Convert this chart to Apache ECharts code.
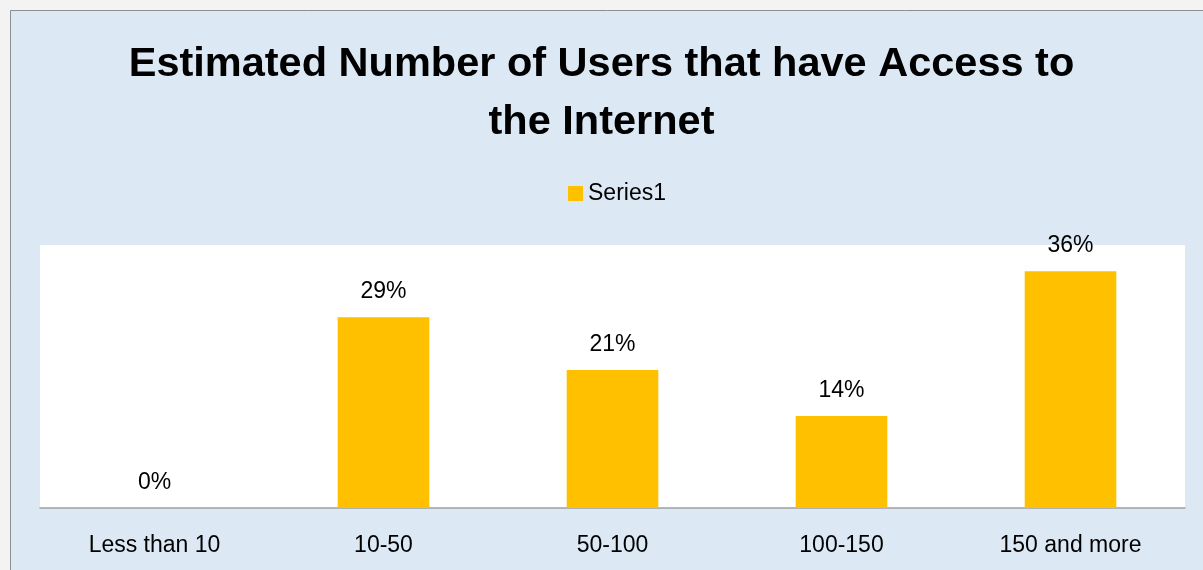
<!DOCTYPE html>
<html>
<head>
<meta charset="utf-8">
<script src="https://cdn.jsdelivr.net/npm/echarts@6/dist/echarts.min.js"></script>
<style>
  html, body { margin: 0; padding: 0; background: #f3f3f3; }
  #chart { width: 1203px; height: 570px; }
</style>
</head>
<body>
<div id="chart"></div>
<script>
// Number of users per group and the share of respondents with internet access
const categories = ['Less than 10', '10-50', '50-100', '100-150', '150 and more'];
const series1 = [0, 29, 21, 14, 36];
const seriesName = 'Series1';
const titleText = 'Estimated Number of Users that have Access to\nthe Internet';

const FONT = '"Liberation Sans", Arial, sans-serif';

const chart = echarts.init(document.getElementById('chart'), null, { renderer: 'canvas' });
chart.setOption({
  backgroundColor: '#f3f3f3',
  animation: false,
  textStyle: { fontFamily: FONT },
  graphic: [{
    type: 'rect',
    z: -10,
    silent: true,
    shape: { x: 10.5, y: 10.5, width: 1300, height: 700 },
    style: { fill: '#dce9f5', stroke: '#8e8e8e', lineWidth: 1 }
  }],
  title: {
    text: titleText,
    left: 'center',
    top: 36,
    padding: 0,
    textStyle: { fontFamily: FONT, fontSize: 41.5, fontWeight: 'bold', color: '#000', lineHeight: 58 }
  },
  legend: {
    data: [seriesName],
    left: 568,
    top: 182,
    padding: 0,
    itemWidth: 15,
    itemHeight: 15,
    itemGap: 5,
    icon: 'rect',
    textStyle: { fontFamily: FONT, fontSize: 23, color: '#000', padding: [0, 0, 0, 0] }
  },
  grid: {
    left: 40, right: 18, top: 245, bottom: 62,
    show: true, backgroundColor: '#ffffff', borderWidth: 0
  },
  xAxis: {
    type: 'category',
    data: categories,
    axisLine: { lineStyle: { color: '#a0a0a0', width: 1.5 } },
    axisTick: { show: false },
    axisLabel: { fontFamily: FONT, fontSize: 23, color: '#000', margin: 26 }
  },
  yAxis: {
    type: 'value',
    min: 0, max: 40,
    show: false,
    splitLine: { show: false }
  },
  series: [{
    name: seriesName,
    type: 'bar',
    data: series1,
    barWidth: '40%',
    itemStyle: { color: '#ffc000' },
    label: {
      show: true,
      position: 'top',
      distance: 14,
      fontFamily: FONT,
      fontSize: 23,
      color: '#000',
      formatter: p => p.value + '%'
    }
  }]
});
</script>
</body>
</html>
